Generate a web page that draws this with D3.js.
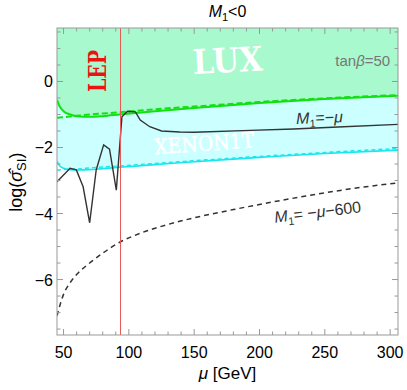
<!DOCTYPE html>
<html>
<head>
<meta charset="utf-8">
<script src="https://cdn.jsdelivr.net/npm/d3@7"></script>
<style>
    body { margin: 0; background: #fff; }
    text { font-family: "Liberation Sans", Arial, sans-serif; }
</style>
</head>
<body>
<div id="graph"></div>
<script>
// limits, common grid in mu
var muGrid = [45, 47, 50, 55, 60, 70, 80, 93, 120, 150, 200, 250, 306];
var luxSolid = [-0.56, -0.75, -0.9, -1.0, -1.05, -1.07, -1.05, -1.0, -0.9, -0.8, -0.65, -0.53, -0.43];
var luxDashed = [-1.10, -1.09, -1.08, -1.06, -1.04, -1.0, -0.97, -0.93, -0.84, -0.76, -0.62, -0.51, -0.41];
var xenonSolid = [-2.42, -2.55, -2.63, -2.67, -2.68, -2.67, -2.64, -2.60, -2.52, -2.43, -2.30, -2.18, -2.08];
var xenonDashed = [-2.68, -2.68, -2.67, -2.66, -2.65, -2.62, -2.59, -2.56, -2.48, -2.40, -2.27, -2.15, -2.03];

// M1 = -mu
var muBlack = [45, 55, 59.8, 65, 70, 75, 80.7, 85.2, 90.4, 94.7, 99, 105, 108.7, 116, 125, 139, 150, 193, 226, 260, 306];
var sigmaBlack = [-3.04, -2.63, -2.68, -3.19, -4.28, -2.68, -1.92, -2.05, -3.29, -1.07, -0.9, -0.92, -1.17, -1.37, -1.50, -1.53, -1.54, -1.48, -1.44, -1.38, -1.30];

// M1 = -mu-600
var muDash = [45, 50, 55, 60, 70, 80, 93, 110, 130, 150, 180, 210, 240, 270, 306];
var sigmaDash = [-7.1, -6.45, -6.1, -5.85, -5.5, -5.2, -4.87, -4.58, -4.33, -4.13, -3.88, -3.65, -3.44, -3.25, -3.07];

var lepMass = 92.9;
var xTicks = [50, 100, 150, 200, 250, 300];
var yTicks = [-6, -4, -2, 0];

function toPoints(xs, ys) {
    return xs.map(function (d, i) {
        return {xData: d, yData: ys[i]};
    });
}

function label(parent, cx, cy, angle, size, color) {
    return parent.append("text")
        .attr("transform", "translate(" + cx + "," + cy + ") rotate(" + angle + ")")
        .attr("text-anchor", "middle")
        .style("font-size", size + "px")
        .attr("fill", color);
}

function drawGraph() {

    var margins = [28, 9, 55, 57]; // top right bottom left
    var W = 407, H = 390;
    var width = W - margins[1] - margins[3];
    var height = H - margins[0] - margins[2];

    var x = d3.scaleLinear().domain([45, 306]).range([0, width]);
    var y = d3.scaleLinear().domain([-7.68, 1.62]).range([height, 0]);

    var svg = d3.select("#graph").append("svg")
        .attr("width", W)
        .attr("height", H);

    svg.append("defs").append("clipPath")
        .attr("id", "clip")
        .append("rect")
        .attr("width", width)
        .attr("height", height);

    var graph = svg.append("g")
        .attr("transform", "translate(" + margins[3] + "," + margins[0] + ")");

    var plot = graph.append("g").attr("clip-path", "url(#clip)");

    var line = d3.line()
        .x(function (d) { return x(d.xData); })
        .y(function (d) { return y(d.yData); })
        .curve(d3.curveMonotoneX);

    // LUX excluded region
    var band = muGrid.map(function (m, i) {
        return {xData: m, top: luxSolid[i], bottom: xenonSolid[i]};
    });
    plot.append("path")
        .attr("d", d3.area()
            .x(function (d) { return x(d.xData); })
            .y0(function (d) { return y(d.top); })
            .y1(0)
            .curve(d3.curveMonotoneX)(band))
        .attr("fill", "#a8f9cd");

    // XENON1T reach
    plot.append("path")
        .attr("d", d3.area()
            .x(function (d) { return x(d.xData); })
            .y0(function (d) { return y(d.top); })
            .y1(function (d) { return y(d.bottom); })
            .curve(d3.curveMonotoneX)(band))
        .attr("fill", "#ccffff");

    plot.append("path")
        .attr("d", line(toPoints(muGrid, xenonSolid)))
        .attr("fill", "none").attr("stroke", "#19e6ee").attr("stroke-width", 1.6);
    plot.append("path")
        .attr("d", line(toPoints(muGrid, xenonDashed)))
        .attr("fill", "none").attr("stroke", "#19e6ee").attr("stroke-width", 1.4)
        .attr("stroke-dasharray", "4,3");

    plot.append("path")
        .attr("d", line(toPoints(muGrid, luxSolid)))
        .attr("fill", "none").attr("stroke", "#11e011").attr("stroke-width", 2);
    plot.append("path")
        .attr("d", line(toPoints(muGrid, luxDashed)))
        .attr("fill", "none").attr("stroke", "#11e011").attr("stroke-width", 2)
        .attr("stroke-dasharray", "6,3");

    plot.append("path")
        .attr("d", d3.line()
            .x(function (d) { return x(d.xData); })
            .y(function (d) { return y(d.yData); })(toPoints(muBlack, sigmaBlack)))
        .attr("fill", "none").attr("stroke", "#333").attr("stroke-width", 1.4);

    plot.append("path")
        .attr("d", line(toPoints(muDash, sigmaDash)))
        .attr("fill", "none").attr("stroke", "#333").attr("stroke-width", 1.5)
        .attr("stroke-dasharray", "5,4");

    // LEP bound
    var lx = Math.round(x(lepMass)) + 0.5;
    plot.append("line")
        .attr("x1", lx).attr("x2", lx)
        .attr("y1", 0).attr("y2", height)
        .attr("stroke", "#e65a5a").attr("stroke-width", 1);

    // frame + ticks
    var axisColor = "#999";
    var xMinor = d3.range(50, 306, 10);
    var yMinor = d3.range(-7.5, 1.6, 0.5);

    function tickLen(v, majors) {
        return majors.indexOf(v) >= 0 ? 6 : 3.5;
    }

    xMinor.forEach(function (v) {
        var len = tickLen(v, xTicks);
        graph.append("line").attr("x1", x(v)).attr("x2", x(v))
            .attr("y1", height).attr("y2", height - len).attr("stroke", axisColor);
        graph.append("line").attr("x1", x(v)).attr("x2", x(v))
            .attr("y1", 0).attr("y2", len).attr("stroke", axisColor);
    });
    yMinor.forEach(function (v) {
        var len = tickLen(Math.round(v * 2) / 2, yTicks);
        graph.append("line").attr("x1", 0).attr("x2", len)
            .attr("y1", y(v)).attr("y2", y(v)).attr("stroke", axisColor);
        graph.append("line").attr("x1", width).attr("x2", width - len)
            .attr("y1", y(v)).attr("y2", y(v)).attr("stroke", axisColor);
    });

    graph.append("rect")
        .attr("width", width).attr("height", height)
        .attr("fill", "none").attr("stroke", axisColor).attr("stroke-width", 1);

    xTicks.forEach(function (v) {
        graph.append("text")
            .attr("x", x(v)).attr("y", height + 23)
            .attr("text-anchor", "middle")
            .style("font-size", "16px")
            .text(v);
    });
    yTicks.forEach(function (v) {
        graph.append("text")
            .attr("x", -4).attr("y", y(v) + 6)
            .attr("text-anchor", "end")
            .style("font-size", "16px")
            .text(v < 0 ? "\u2212" + Math.abs(v) : v);
    });

    // title and axis labels
    var title = svg.append("text")
        .attr("x", margins[3] + width / 2).attr("y", 17)
        .attr("text-anchor", "middle")
        .style("font-size", "16px");
    title.append("tspan").style("font-style", "italic").text("M");
    title.append("tspan").attr("dy", 4).style("font-size", "11px").text("1");
    title.append("tspan").attr("dy", -4).text("<0");

    var xl = svg.append("text")
        .attr("x", margins[3] + width / 2).attr("y", 379)
        .attr("text-anchor", "middle")
        .style("font-size", "17px");
    xl.append("tspan").style("font-style", "italic").text("\u03bc");
    xl.append("tspan").text(" [GeV]");

    var yl = svg.append("text")
        .attr("transform", "translate(22," + (margins[0] + y(-3.05)) + ") rotate(-90)")
        .attr("text-anchor", "middle")
        .style("font-size", "18px");
    yl.append("tspan").text("log(");
    yl.append("tspan").style("font-style", "italic").text("\u03c3\u0302");
    yl.append("tspan").attr("dy", 4).style("font-size", "13px").text("SI");
    yl.append("tspan").attr("dy", -4).text(")");

    // annotations in a typewriter-like serif face
    var serif = "'DejaVu Serif', 'Liberation Serif', serif";

    label(graph, x(176), y(0.28), -3, 34, "#fff")
        .style("font-family", serif)
        .style("font-weight", "bold")
        .attr("textLength", 70).attr("lengthAdjust", "spacingAndGlyphs")
        .text("LUX");

    label(graph, x(158), y(-2.1), -4, 21, "#fff")
        .style("font-family", serif)
        .attr("stroke", "#fff").attr("stroke-width", 0.5)
        .attr("textLength", 100).attr("lengthAdjust", "spacingAndGlyphs")
        .text("XENON1T");

    label(graph, 49, 43, -90, 24, "#ee1111")
        .style("font-family", serif)
        .style("font-weight", "bold")
        .attr("textLength", 42).attr("lengthAdjust", "spacingAndGlyphs")
        .text("LEP");

    var tb = graph.append("text")
        .attr("x", x(300)).attr("y", y(0.47))
        .attr("text-anchor", "end")
        .style("font-size", "15px")
        .attr("fill", "#777");
    tb.append("tspan").text("tan");
    tb.append("tspan").style("font-style", "italic").text("\u03b2");
    tb.append("tspan").text("=50");

    var m1 = label(graph, x(246), y(-1.26), -2, 16, "#333");
    m1.append("tspan").style("font-style", "italic").text("M");
    m1.append("tspan").attr("dy", 4).style("font-size", "11px").text("1");
    m1.append("tspan").attr("dy", -4).text("=\u2212");
    m1.append("tspan").style("font-style", "italic").text("\u03bc");

    var m2 = label(graph, x(245), y(-4.12), -7, 16, "#333");
    m2.append("tspan").style("font-style", "italic").text("M");
    m2.append("tspan").attr("dy", 4).style("font-size", "11px").text("1");
    m2.append("tspan").attr("dy", -4).text("= \u2212");
    m2.append("tspan").style("font-style", "italic").text("\u03bc");
    m2.append("tspan").text("\u2212600");
}

drawGraph();
</script>
</body>
</html>
